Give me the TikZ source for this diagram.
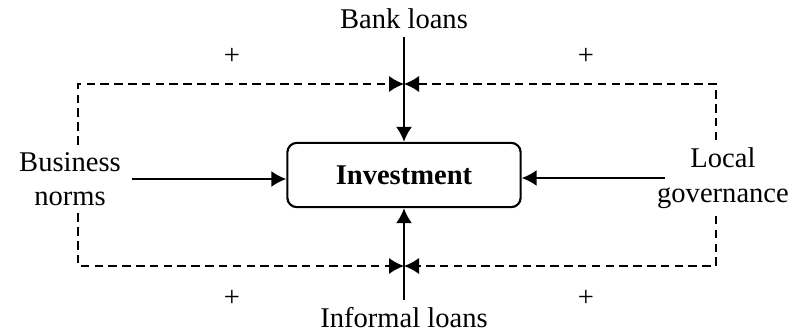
\documentclass[tikz,border=0pt]{standalone}
\usepackage{fontspec}
\setmainfont{Liberation Serif}
\usetikzlibrary{arrows.meta}

\begin{document}
\begin{tikzpicture}[x=0.42pt,y=-0.42pt,>={Latex[length=6.3pt,width=6.8pt]},
		font=\fontsize{12}{14.5}\selectfont,
		factor/.style={align=center, inner sep=3pt},
		invbox/.style={draw, line width=0.9pt, rounded corners=4pt, minimum width=98pt, minimum height=27pt, font=\fontsize{12}{14.5}\selectfont\bfseries},
		drive/.style={->, line width=0.9pt},
		moderate/.style={->, line width=0.7pt, dash pattern=on 3.6pt off 2.2pt}]
	\useasboundingbox (0,0) rectangle (795,333);
	%% ========================================================
	\node[invbox] (inv) at (404,175) {Investment};
	\node[factor] (bank) at (404,19) {Bank loans};
	\node[factor] (info) at (404,318) {Informal loans};
	\node[factor] (bus) at (70,179) {Business\\norms};
	\node[factor] (loc) at (723,178) {Local\\governance};

	\draw[drive] (bank) -- (inv);
	\draw[drive] (info) -- (inv);
	\draw[drive, shorten <=1.5pt] (bus.east) -- (bus.east -| inv.west);
	\draw[drive] ([xshift=6.3pt]loc.west) -- (loc.west -| inv.east);
	%% ========================================================

	%% ========================================================
	\coordinate (tj) at (404,84);
	\coordinate (bj) at (404,266);
	\draw[moderate] ([xshift=3.4pt]bus.north) |- (tj);
	\draw[moderate] ([xshift=3.4pt]bus.south) |- (bj);
	\draw[moderate] ([xshift=-3pt]loc.north) |- (tj);
	\draw[moderate] ([xshift=-3pt]loc.south) |- (bj);

	\node (p1) at (232,56) {+};
	\node (p2) at (586,56) {+};
	\node (p3) at (232,298) {+};
	\node (p4) at (586,298) {+};
	%% ========================================================
\end{tikzpicture}
\end{document}
